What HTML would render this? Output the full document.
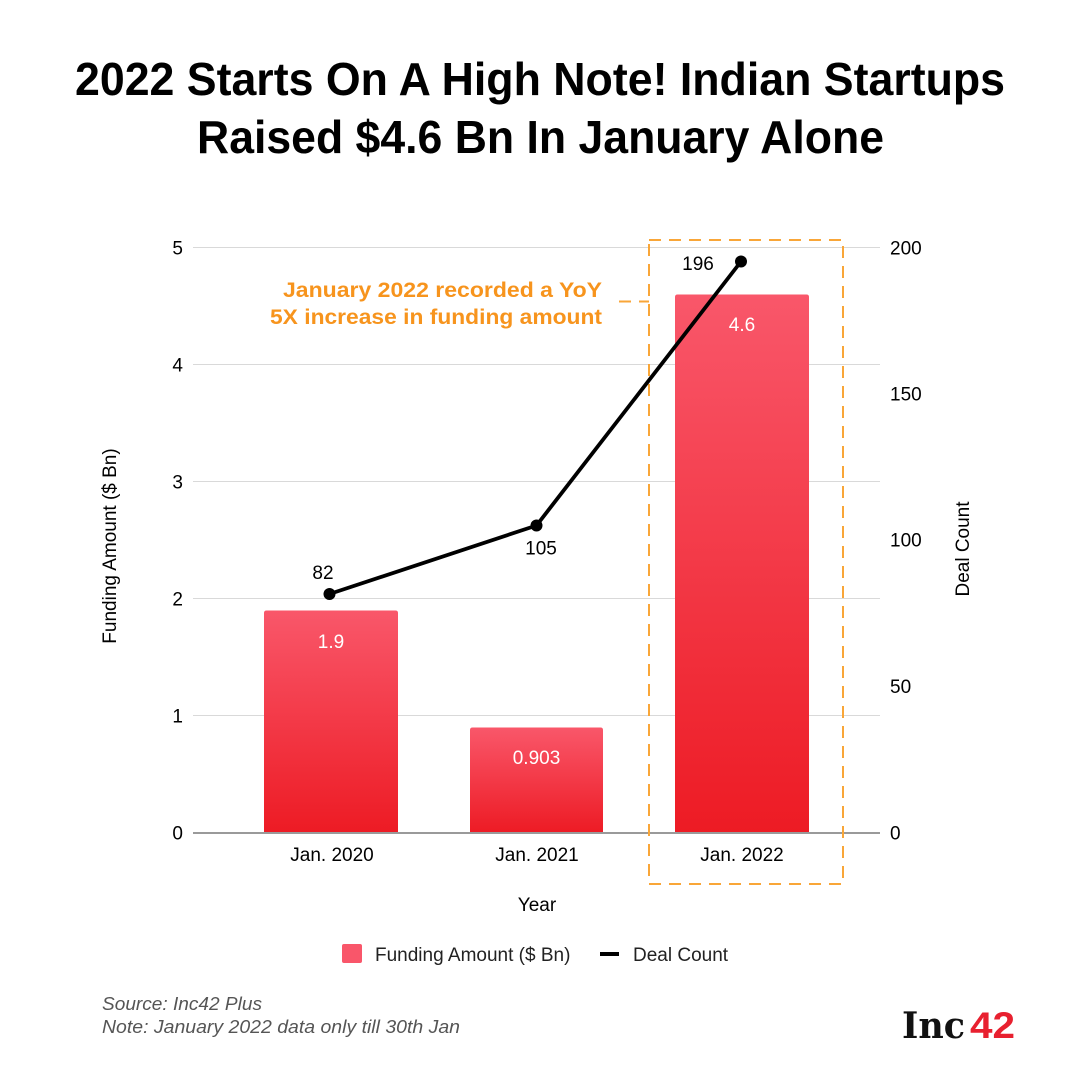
<!DOCTYPE html>
<html>
<head>
<meta charset="utf-8">
<style>
  html, body { margin: 0; padding: 0; background: #ffffff; }
  body { width: 1080px; height: 1080px; overflow: hidden; }
  svg { display: block; }
  text { font-family: "Liberation Sans", Arial, sans-serif; }
</style>
</head>
<body>
<svg width="1080" height="1080" viewBox="0 0 1080 1080" xmlns="http://www.w3.org/2000/svg">
  <defs>
    <linearGradient id="barGrad" x1="0" y1="0" x2="0" y2="1">
      <stop offset="0" stop-color="#F9576A"/>
      <stop offset="1" stop-color="#ED1B24"/>
    </linearGradient>
  </defs>
  <rect x="0" y="0" width="1080" height="1080" fill="#ffffff"/>

  <!-- Title -->
  <text x="75" y="95" font-size="46" font-weight="bold" fill="#000" textLength="930" lengthAdjust="spacingAndGlyphs">2022 Starts On A High Note! Indian Startups</text>
  <text x="197" y="153" font-size="46" font-weight="bold" fill="#000" textLength="687" lengthAdjust="spacingAndGlyphs">Raised $4.6 Bn In January Alone</text>

  <!-- Gridlines -->
  <g stroke="#d9d9d9" stroke-width="1">
    <line x1="193" y1="247.5" x2="880" y2="247.5"/>
    <line x1="193" y1="364.5" x2="880" y2="364.5"/>
    <line x1="193" y1="481.5" x2="880" y2="481.5"/>
    <line x1="193" y1="598.5" x2="880" y2="598.5"/>
    <line x1="193" y1="715.5" x2="880" y2="715.5"/>
  </g>

  <!-- Bars -->
  <path d="M264,833 L264,613 Q264,610.5 266.5,610.5 L395.5,610.5 Q398,610.5 398,613 L398,833 Z" fill="url(#barGrad)"/>
  <path d="M470,833 L470,730 Q470,727.5 472.5,727.5 L600.5,727.5 Q603,727.5 603,730 L603,833 Z" fill="url(#barGrad)"/>
  <path d="M675,833 L675,297 Q675,294.5 677.5,294.5 L806.5,294.5 Q809,294.5 809,297 L809,833 Z" fill="url(#barGrad)"/>

  <!-- Baseline -->
  <line x1="193" y1="833" x2="880" y2="833" stroke="#9a9a9a" stroke-width="2"/>

  <!-- Bar value labels -->
  <g font-size="19" fill="#ffffff" text-anchor="middle">
    <text x="331" y="648">1.9</text>
    <text x="536.5" y="764">0.903</text>
    <text x="742" y="331">4.6</text>
  </g>

  <!-- Highlight dashed box -->
  <rect x="649" y="240" width="194" height="644" fill="none" stroke="#F9A638" stroke-width="2" stroke-dasharray="12 8"/>
  <line x1="619" y1="301.5" x2="649" y2="301.5" stroke="#F9A638" stroke-width="2" stroke-dasharray="12 8"/>

  <!-- Annotation -->
  <g font-size="21" font-weight="bold" fill="#F7941D">
    <text x="283" y="297" textLength="319" lengthAdjust="spacingAndGlyphs">January 2022 recorded a YoY</text>
    <text x="270" y="324" textLength="332" lengthAdjust="spacingAndGlyphs">5X increase in funding amount</text>
  </g>

  <!-- Deal count line -->
  <polyline points="329.5,594 536.5,525.5 741,261.5" fill="none" stroke="#000" stroke-width="3.8" stroke-linejoin="round"/>
  <circle cx="329.5" cy="594" r="6" fill="#000"/>
  <circle cx="536.5" cy="525.5" r="6" fill="#000"/>
  <circle cx="741" cy="261.5" r="6" fill="#000"/>
  <g font-size="19" fill="#000" text-anchor="middle">
    <text x="323" y="579">82</text>
    <text x="541" y="554.5">105</text>
    <text x="698" y="270">196</text>
  </g>

  <!-- Left axis ticks -->
  <g font-size="19" fill="#000" text-anchor="end">
    <text x="183" y="254.5">5</text>
    <text x="183" y="371.5">4</text>
    <text x="183" y="488.5">3</text>
    <text x="183" y="605.5">2</text>
    <text x="183" y="722.5">1</text>
    <text x="183" y="839.5">0</text>
  </g>

  <!-- Right axis ticks -->
  <g font-size="19" fill="#000" text-anchor="start">
    <text x="890" y="254.5">200</text>
    <text x="890" y="400.5">150</text>
    <text x="890" y="546.5">100</text>
    <text x="890" y="693">50</text>
    <text x="890" y="839.5">0</text>
  </g>

  <!-- Axis titles -->
  <text transform="translate(116,546) rotate(-90)" font-size="19" fill="#000" text-anchor="middle">Funding Amount ($ Bn)</text>
  <text transform="translate(969,549) rotate(-90)" font-size="19" fill="#000" text-anchor="middle">Deal Count</text>

  <!-- X labels -->
  <g font-size="19" fill="#000" text-anchor="middle">
    <text x="332" y="861">Jan. 2020</text>
    <text x="537" y="861">Jan. 2021</text>
    <text x="742" y="861">Jan. 2022</text>
    <text x="537" y="911">Year</text>
  </g>

  <!-- Legend -->
  <rect x="342" y="944" width="20" height="19" rx="2" ry="2" fill="#F9566A"/>
  <text x="375" y="961" font-size="19" fill="#222">Funding Amount ($ Bn)</text>
  <line x1="600" y1="954" x2="619" y2="954" stroke="#000" stroke-width="4"/>
  <text x="633" y="961" font-size="19" fill="#222">Deal Count</text>

  <!-- Source -->
  <g font-size="18" font-style="italic" fill="#555">
    <text x="102" y="1010" textLength="160" lengthAdjust="spacingAndGlyphs">Source: Inc42 Plus</text>
    <text x="102" y="1033" textLength="358" lengthAdjust="spacingAndGlyphs">Note: January 2022 data only till 30th Jan</text>
  </g>

  <!-- Logo -->
  <text x="902" y="1038" style="font-family:'DejaVu Serif','Liberation Serif',serif;font-weight:bold;font-size:36px;" fill="#111" textLength="63" lengthAdjust="spacingAndGlyphs">Inc</text>
  <text x="970" y="1038" style="font-family:'Liberation Sans',sans-serif;font-weight:bold;font-size:37px;" fill="#E8202F" textLength="45" lengthAdjust="spacingAndGlyphs">42</text>
</svg>
</body>
</html>
